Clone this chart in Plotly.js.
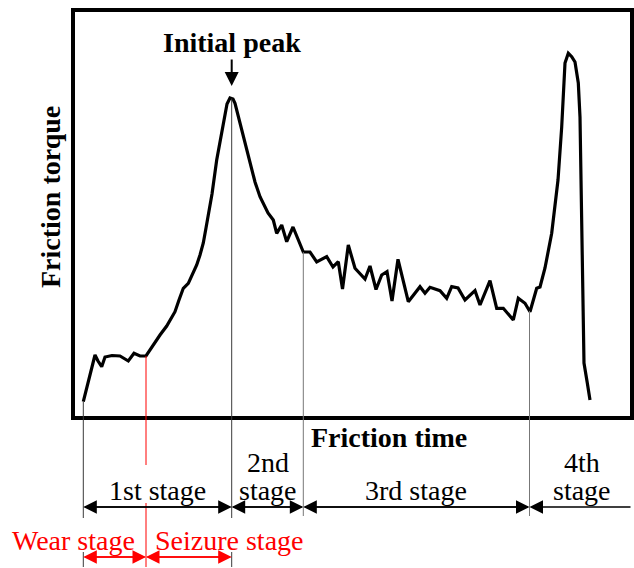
<!DOCTYPE html>
<html><head><meta charset="utf-8">
<script src="https://cdn.plot.ly/plotly-3.0.1.min.js"></script>
<style>html,body{margin:0;padding:0;background:#fff;}#chart{width:634px;height:568px;}</style>
</head><body><div id="chart"></div>
<script>
// ---- data (arbitrary units) ----
const frictionTime = [10.3,16,22,25,28.7,32,39,47,55.3,61,67,73,78,83.7,87,93.7,98,102,106,110.3,115.3,119,123.7,127,130.3,133,135.5,139,143.7,147,150.3,154,157,160,162,165,168.7,173,177,182,187,191,195,200.3,203.7,208.7,213.7,220,225.3,230.3,237,243.7,253.7,260,265.3,269.5,275.3,282,292,297,303,308.7,314,319,325,329,335.3,347,352,357,367,373.7,378.7,385,392,402,407,417,423.7,430.3,440.3,445.3,452,457,463.7,467,472,478.7,482,485,488.7,492,495.3,498.7,502,503.7,505.3,507,508,508.7,509.7,511,514.3,517];
const frictionTorque = [16.3,40,63,57,51.3,61,62.5,62,57,64.7,62,62,70,79,83,92,99,106.3,118,129.7,134.7,142,153,163,175,190,204,224,258,276,291,314,320,319,314.7,303,288,271,254.7,236,221.3,213,205,198,184.7,193,176.3,191,178,166,166,156,161.3,151,156.3,129,173,149.7,139,152,128.5,143,146.3,117,158.7,143,116.3,131.3,124.7,130.7,127.3,119.7,131.3,130,118,127.3,113,137.3,109.7,109.7,98,119.7,114.7,106.3,129.7,131,150,184.7,215,238,291,355,364.7,361.3,356,346,335,301,238,170,110,55,35,18];
const stageBounds = [10.3, 158.7, 230.3, 456.5, 559];
const stageLabels = [['1st stage'], ['2nd', 'stage'], ['3rd stage'], ['4th', 'stage']];
const subStageBounds = [10.3, 73, 158.7];
const subStageLabels = ['Wear stage', 'Seizure stage'];
const peakTime = 158.7;
const peakLabel = 'Initial peak';
const xTitle = 'Friction time';
const yTitle = 'Friction torque';

// ---- layout geometry ----
const W = 634, H = 568;
const M = {l: 73, r: 2, t: 10, b: 150};
const XR = [0, 559], YR = [0, 408];
const plotH = H - M.t - M.b, plotW = W - M.l - M.r;
const py2p = py => (H - M.b - py) / plotH;           // page pixel y -> paper
const px2p = px => (px - M.l) / plotW;               // page pixel x -> paper
const v2p = v => (v - YR[0]) / (YR[1] - YR[0]);      // torque value -> paper
function curveAt(t) {
  for (let i = 0; i < frictionTime.length - 1; i++) {
    if (t >= frictionTime[i] && t <= frictionTime[i + 1]) {
      const f = (t - frictionTime[i]) / (frictionTime[i + 1] - frictionTime[i]);
      return frictionTorque[i] + f * (frictionTorque[i + 1] - frictionTorque[i]);
    }
  }
  return frictionTorque[0];
}

const serif = 'Liberation Serif, Times New Roman, serif';
const shapes = [];
const annotations = [];
const GREY = '#3a3a3a', RED = '#ff0000';
const FS = 28;

// frame
shapes.push({type: 'rect', xref: 'paper', yref: 'paper', x0: 0, x1: 1, y0: 0, y1: 1,
  line: {color: '#000', width: 4}, layer: 'above'});

function vline(t, yTop, yBot, color) {
  shapes.push({type: 'line', xref: 'x', yref: 'paper', x0: t, x1: t, y0: yTop, y1: yBot,
    line: {color: color, width: 1}});
}
// stage boundary lines
const blackArrowY = py2p(507), redArrowY = py2p(557);
vline(stageBounds[0], v2p(curveAt(stageBounds[0])), py2p(518), GREY);
vline(stageBounds[0], py2p(552), py2p(567), GREY);
vline(stageBounds[1], v2p(curveAt(stageBounds[1])), py2p(518), GREY);
vline(stageBounds[1], py2p(552), py2p(567), GREY);
vline(stageBounds[2], v2p(curveAt(stageBounds[2])), py2p(516), '#777');
vline(stageBounds[3], v2p(curveAt(stageBounds[3])), py2p(516), '#777');
vline(subStageBounds[1], v2p(curveAt(subStageBounds[1])), py2p(465), RED);
vline(subStageBounds[1], py2p(503), py2p(567), RED);

function halfArrow(head, tail, y, color) {
  annotations.push({xref: 'x', yref: 'paper', x: head, y: y, axref: 'x', ayref: 'pixel',
    ax: tail, ay: 0, text: '', showarrow: true, arrowhead: 2, arrowsize: 1.8,
    arrowwidth: 1.5, arrowcolor: color});
}
function dblArrow(a, b, y, color) {
  halfArrow(a, b, y, color);
  halfArrow(b, a, y, color);
}
for (let i = 0; i < 3; i++) dblArrow(stageBounds[i], stageBounds[i + 1], blackArrowY, '#000');
halfArrow(stageBounds[3], stageBounds[4], blackArrowY, '#000');
for (let i = 0; i < 2; i++) dblArrow(subStageBounds[i], subStageBounds[i + 1], redArrowY, RED);

// peak arrow
annotations.push({xref: 'x', yref: 'paper', x: peakTime, y: py2p(86), axref: 'pixel', ayref: 'pixel',
  ax: 0, ay: -28, text: '', showarrow: true, arrowhead: 2, arrowsize: 1.4, arrowwidth: 2, arrowcolor: '#000'});

function label(text, cx, cy, size, color, extra) {
  annotations.push(Object.assign({xref: 'paper', yref: 'paper', x: px2p(cx), y: py2p(cy),
    xanchor: 'center', yanchor: 'middle', showarrow: false, text: text,
    font: {family: serif, size: size, color: color}}, extra || {}));
}
label('<b>' + peakLabel + '</b>', 232, 42, FS, '#000');
label('<b>' + xTitle + '</b>', 389, 437, FS, '#000');
label('<b>' + yTitle + '</b>', 50, 197, FS, '#000', {textangle: -90});
label(stageLabels[0][0], 157, 490, FS, '#000');
label(stageLabels[1][0], 268, 462, FS, '#000');
label(stageLabels[1][1], 268, 490, FS, '#000');
label(stageLabels[2][0], 416, 490, FS, '#000');
label(stageLabels[3][0], 582, 462, FS, '#000');
label(stageLabels[3][1], 582, 490, FS, '#000');
label(subStageLabels[0], 73, 540, FS, RED);
label(subStageLabels[1], 229, 540, FS, RED);

const trace = {x: frictionTime, y: frictionTorque, type: 'scatter', mode: 'lines',
  line: {color: '#000', width: 3.2, shape: 'linear'}, hoverinfo: 'skip'};

const layout = {
  width: W, height: H, margin: M, paper_bgcolor: '#fff', plot_bgcolor: '#fff',
  showlegend: false,
  xaxis: {range: XR, showgrid: false, zeroline: false, showticklabels: false, ticks: '', showline: false, fixedrange: true},
  yaxis: {range: YR, showgrid: false, zeroline: false, showticklabels: false, ticks: '', showline: false, fixedrange: true},
  shapes: shapes, annotations: annotations
};
Plotly.newPlot('chart', [trace], layout, {staticPlot: true, displayModeBar: false});
</script></body></html>
